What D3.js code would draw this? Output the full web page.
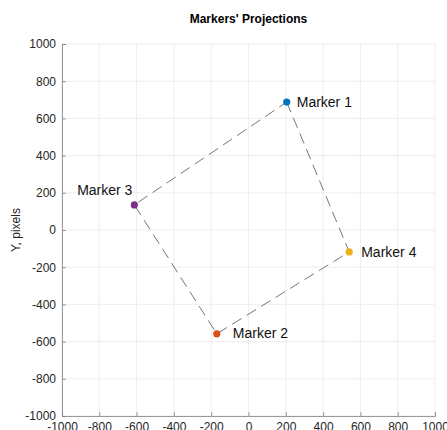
<!DOCTYPE html>
<html><head><meta charset="utf-8">
<script src="https://cdn.jsdelivr.net/npm/d3@7"></script>
<style>body{margin:0;background:#fff}svg{display:block;font-family:"Liberation Sans",Arial,Helvetica,sans-serif}</style>
</head><body>
<script>
const markerNames = ["Marker 1","Marker 2","Marker 3","Marker 4"];
const markerX = [205, -170, -612, 540];
const markerY = [688, -558, 135, -118];
const markerColors = ["#0072BD","#D95319","#7E2F8E","#EDB120"];
const pathOrder = [0, 3, 1, 2, 0];
const xTicks = [-1000,-800,-600,-400,-200,0,200,400,600,800,1000];
const yTicks = [-1000,-800,-600,-400,-200,0,200,400,600,800,1000];

const W=447,H=430;
const m={l:62,r:12,t:44,b:14};
const svg=d3.select("body").append("svg").attr("width",W).attr("height",H);
const x=d3.scaleLinear().domain([-1000,1000]).range([m.l,W-m.r]);
const y=d3.scaleLinear().domain([-1000,1000]).range([H-m.b,m.t]);
const fmt=d=>String(d);

// grid
svg.append("g").selectAll("line.gx").data(xTicks).join("line")
 .attr("x1",d=>x(d)).attr("x2",d=>x(d)).attr("y1",y(-1000)).attr("y2",y(1000))
 .attr("stroke","#e6e6e6").attr("stroke-width",0.7);
svg.append("g").selectAll("line.gy").data(yTicks).join("line")
 .attr("y1",d=>y(d)).attr("y2",d=>y(d)).attr("x1",x(-1000)).attr("x2",x(1000))
 .attr("stroke","#e6e6e6").attr("stroke-width",0.7);

// axes
const xa=svg.append("g").attr("transform",`translate(0,${y(-1000)})`)
 .call(d3.axisBottom(x).tickValues(xTicks).tickFormat(fmt).tickSize(-4).tickPadding(6));
const ya=svg.append("g").attr("transform",`translate(${x(-1000)},0)`)
 .call(d3.axisLeft(y).tickValues(yTicks).tickFormat(fmt).tickSize(-4).tickPadding(6));
[xa,ya].forEach(a=>{
 a.selectAll("path").attr("stroke","#808080").attr("stroke-width",0.8);
 a.selectAll("line").attr("stroke","#808080").attr("stroke-width",0.8);
 a.selectAll("text").attr("fill","#262626").style("font-size","12px").style("font-family","Liberation Sans, Arial, sans-serif");
});
xa.selectAll("text").attr("dy","0.71em");

// dashed path
const lineGen=d3.line().x(i=>x(markerX[i])).y(i=>y(markerY[i]));
svg.append("path").attr("d",lineGen(pathOrder)).attr("fill","none")
 .attr("stroke","#666").attr("stroke-width",0.9).attr("stroke-dasharray","11,6");

// points
svg.append("g").selectAll("circle").data(markerNames).join("circle")
 .attr("cx",(d,i)=>x(markerX[i])).attr("cy",(d,i)=>y(markerY[i])).attr("r",3.6)
 .attr("fill",(d,i)=>markerColors[i]);

// labels
const off=[[10,5,"start"],[16,4,"start"],[-2,-10,"end"],[12,5,"start"]];
svg.append("g").selectAll("text").data(markerNames).join("text")
 .attr("x",(d,i)=>x(markerX[i])+off[i][0]).attr("y",(d,i)=>y(markerY[i])+off[i][1])
 .attr("text-anchor",(d,i)=>off[i][2]).attr("fill","#111").style("font-size","14px").text(d=>d);

// title
svg.append("text").attr("x",(x(-1000)+x(1000))/2).attr("y",23).attr("text-anchor","middle")
 .style("font-size","12px").style("font-weight","bold").attr("fill","#000").text("Markers' Projections");

// y label
svg.append("text").attr("transform",`translate(20,${(y(-1000)+y(1000))/2}) rotate(-90)`)
 .attr("text-anchor","middle").style("font-size","12px").attr("fill","#262626").text("Y, pixels");
</script>
</body></html>
